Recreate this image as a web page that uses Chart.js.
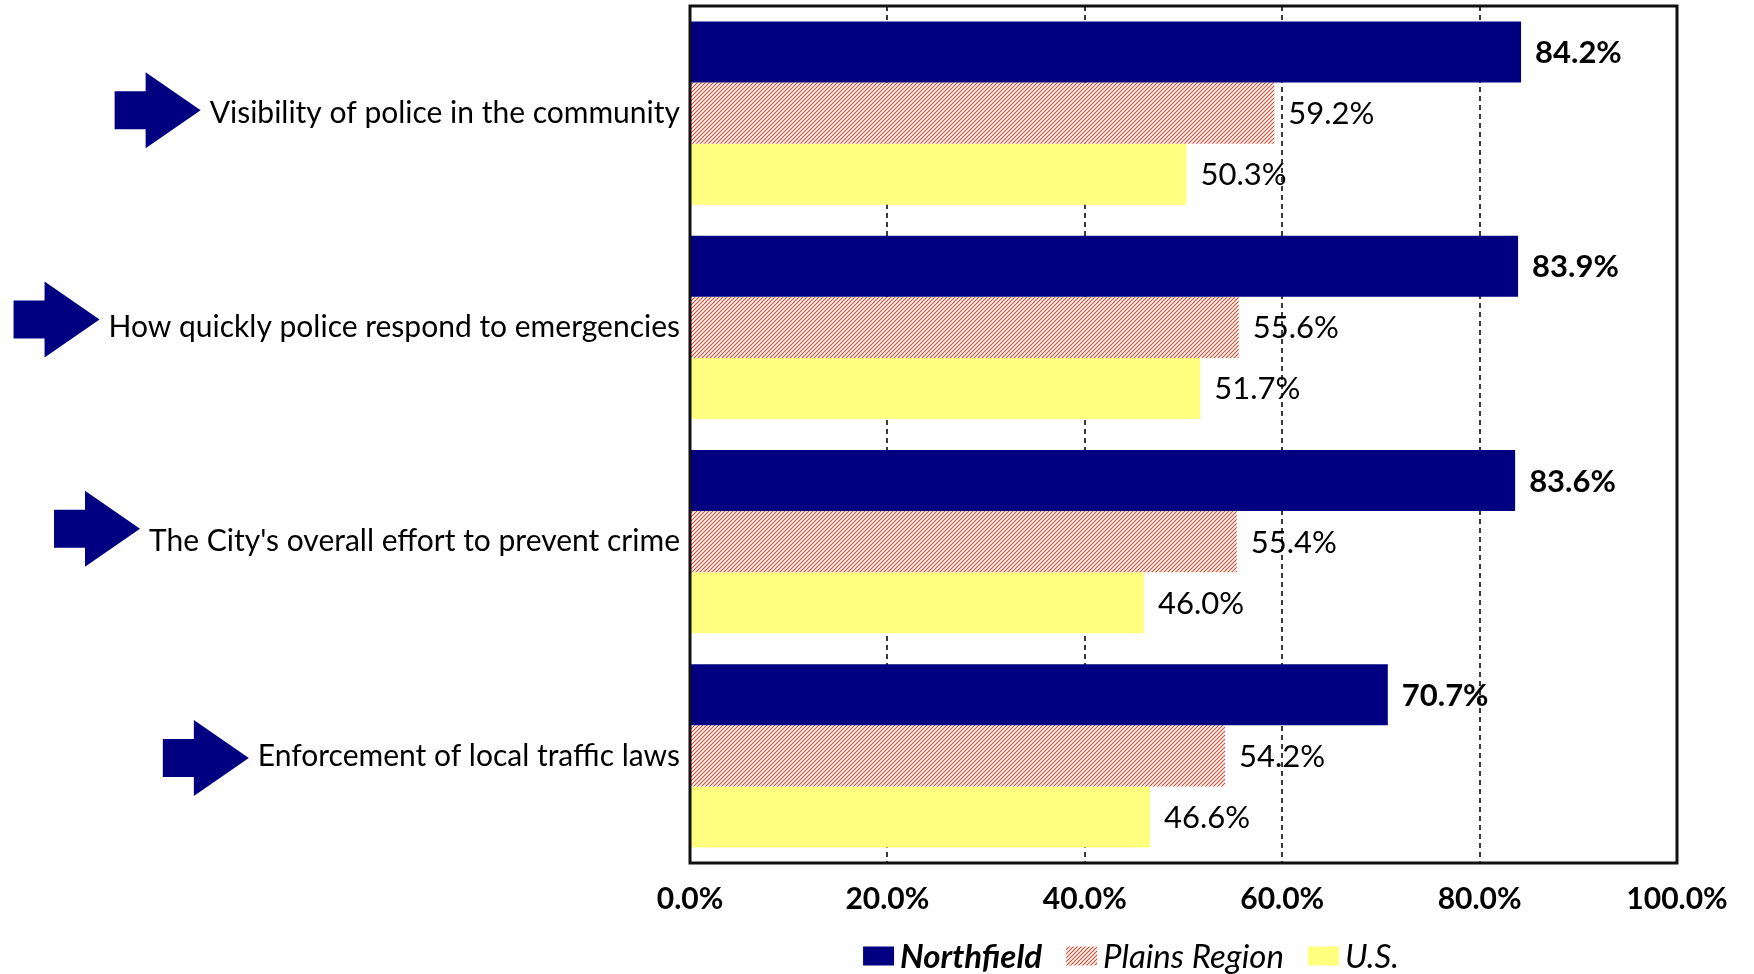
<!DOCTYPE html>
<html>
<head>
<meta charset="utf-8">
<script src="https://cdn.jsdelivr.net/npm/chart.js@4"></script>
<style>
  html, body { margin: 0; padding: 0; background: #fff; }
  #wrap { width: 1754px; height: 974px; }
</style>
</head>
<body>
<div id="wrap"><canvas id="chart" width="1754" height="974"></canvas></div>
<script>
// Chart data
const categories = [
    'Visibility of police in the community',
    'How quickly police respond to emergencies',
    "The City's overall effort to prevent crime",
    'Enforcement of local traffic laws'
];
const seriesNames = ['Northfield', 'Plains Region', 'U.S.'];
const northfield = [84.2, 83.9, 83.6, 70.7];
const plainsRegion = [59.2, 55.6, 55.4, 54.2];
const usValues = [50.3, 51.7, 46.0, 46.6];
const xTicks = [0, 20, 40, 60, 80, 100];

// Small vertical nudges for the hand-placed arrows
const arrowOffsets = [-3, -8, -13, 2];

const FONT = 'Lato, "Open Sans", sans-serif';
const CAT_SIZE = 30;

function makeHatch() {
    // thin red upward diagonal, 4px period
    const c = document.createElement('canvas');
    c.width = 4;
    c.height = 4;
    const g = c.getContext('2d');
    g.fillStyle = '#ffffff';
    g.fillRect(0, 0, 4, 4);
    g.strokeStyle = '#dc4a30';
    g.lineWidth = 1.2;
    g.beginPath();
    g.moveTo(-1, 5); g.lineTo(5, -1);
    g.moveTo(-1, 1); g.lineTo(1, -1);
    g.moveTo(3, 5); g.lineTo(5, 3);
    g.stroke();
    return g.createPattern(c, 'repeat');
}

const ctx = document.getElementById('chart').getContext('2d');
const hatch = makeHatch();

const labelsPlugin = {
    id: 'valueLabels',
    afterDatasetsDraw(chart) {
        const c = chart.ctx;
        c.save();
        c.textBaseline = 'middle';
        c.textAlign = 'left';
        c.fillStyle = '#000';
        chart.data.datasets.forEach((ds, di) => {
            const meta = chart.getDatasetMeta(di);
            c.font = (di === 0 ? 'bold ' : '') + '31px ' + FONT;
            meta.data.forEach((el, i) => {
                c.fillText(ds.data[i].toFixed(1) + '%', el.x + 14, el.y + 1);
            });
        });

        // plot frame
        const a = chart.chartArea;
        c.strokeStyle = '#111';
        c.lineWidth = 3;
        c.strokeRect(a.left, a.top, a.right - a.left, a.bottom - a.top);
        c.restore();
    },
    afterDraw(chart) {
        const c = chart.ctx;
        const yScale = chart.scales.y;
        c.save();

        // arrows to the left of each category label
        c.font = CAT_SIZE + 'px ' + FONT;
        c.fillStyle = '#000080';
        categories.forEach((label, i) => {
            const w = c.measureText(label).width;
            const right = yScale.right - 10 - w - 9;
            const x0 = right - 86;
            const cy = yScale.getPixelForTick(i) + arrowOffsets[i];
            c.beginPath();
            c.moveTo(x0, cy - 19);
            c.lineTo(x0 + 31, cy - 19);
            c.lineTo(x0 + 31, cy - 38);
            c.lineTo(right, cy);
            c.lineTo(x0 + 31, cy + 38);
            c.lineTo(x0 + 31, cy + 19);
            c.lineTo(x0, cy + 19);
            c.closePath();
            c.fill();
        });

        // legend
        const fonts = ['italic bold 33px ' + FONT, 'italic 33px ' + FONT, 'italic 33px ' + FONT];
        const fills = chart.data.datasets.map(d => d.backgroundColor);
        const sw = 31, sh = 19, gapText = 6, gapItem = 24;
        let total = 0;
        const widths = seriesNames.map((n, i) => {
            c.font = fonts[i];
            return c.measureText(n).width;
        });
        widths.forEach(w => { total += sw + gapText + w; });
        total += gapItem * (seriesNames.length - 1);
        let x = 1131 - total / 2;
        const ly = 956;
        c.textBaseline = 'middle';
        seriesNames.forEach((n, i) => {
            c.fillStyle = fills[i];
            c.fillRect(x, ly - sh / 2, sw, sh);
            x += sw + gapText;
            c.font = fonts[i];
            c.fillStyle = '#000';
            c.fillText(n, x, ly + 1);
            x += widths[i] + gapItem;
        });
        c.restore();
    }
};

new Chart(ctx, {
    type: 'bar',
    data: {
        labels: categories,
        datasets: [
            { label: seriesNames[0], data: northfield, backgroundColor: '#000080' },
            { label: seriesNames[1], data: plainsRegion, backgroundColor: hatch },
            { label: seriesNames[2], data: usValues, backgroundColor: '#ffff80' }
        ]
    },
    options: {
        indexAxis: 'y',
        responsive: false,
        animation: false,
        devicePixelRatio: 1,
        layout: {
            padding: { top: 6, right: 77, bottom: 0, left: 0 }
        },
        datasets: {
            bar: {
                barPercentage: 1,
                categoryPercentage: 0.855,
                borderWidth: 0
            }
        },
        plugins: {
            legend: { display: false },
            tooltip: { enabled: false }
        },
        scales: {
            x: {
                min: 0,
                max: 100,
                afterBuildTicks: (scale) => {
                    scale.ticks = xTicks.map(v => ({ value: v }));
                },
                afterFit: (scale) => {
                    scale.height = 111;
                },
                border: { display: false, dash: [5, 4] },
                grid: {
                    drawTicks: false,
                    lineWidth: 2,
                    color: (c) => (c.tick && (c.tick.value === 0 || c.tick.value === 100)) ? 'rgba(0,0,0,0)' : '#3a3a3a'
                },
                ticks: {
                    padding: 18,
                    color: '#000',
                    font: { family: FONT, size: 30, weight: 'bold' },
                    callback: (v) => v.toFixed(1) + '%',
                    maxRotation: 0
                }
            },
            y: {
                afterFit: (scale) => {
                    scale.width = 690;
                    scale.paddingTop = 0;
                    scale.paddingBottom = 0;
                },
                border: { display: false },
                grid: { display: false, drawTicks: false },
                ticks: {
                    padding: 10,
                    color: '#000',
                    font: { family: FONT, size: CAT_SIZE }
                }
            }
        }
    },
    plugins: [labelsPlugin]
});
</script>
</body>
</html>
